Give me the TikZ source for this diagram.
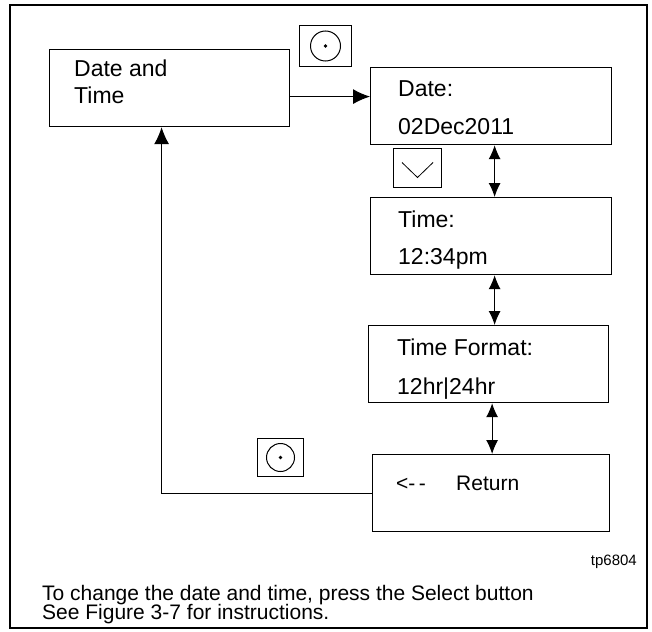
\documentclass[tikz,border=0pt]{standalone}
\usepackage{fontspec}
\setmainfont{Liberation Sans}
\usetikzlibrary{arrows.meta,positioning}
\newcommand{\boxWidth}{241pt}
\newcommand{\boxHeight}{77pt}
\newcommand{\textIndent}{28}
\newcommand{\arrowOffset}{3.5pt}

\begin{document}
\begin{tikzpicture}[x=1pt,y=-1pt,
    menubox/.style={draw,line width=1.2pt,minimum width=\boxWidth,minimum height=\boxHeight,inner sep=0pt,anchor=north west},
    btnbox/.style={draw,line width=1pt,inner sep=0pt,anchor=north west},
    boxtext/.style={inner sep=0pt,anchor=base west,font=\fontsize{23}{27}\selectfont},
    notetext/.style={inner sep=0pt,anchor=base west,font=\fontsize{21}{19}\selectfont},
    arr/.style={-{Latex[length=17pt,width=15pt]},line width=1pt},
    dblarr/.style={{Latex[length=14pt,width=12pt]}-{Latex[length=14pt,width=12pt]},line width=1pt}]
\useasboundingbox (0,0) rectangle (652,631);
\draw[line width=2pt] (10,5) rectangle (647,628);

% menu boxes
\node[menubox,minimum width=240pt] (dt) at (49,49) {};
\node[menubox] (date) at (370,67) {};
\node[menubox] (time) at (370,197) {};
\node[menubox,minimum width=240pt] (fmt) at (368,325) {};
\node[menubox,minimum width=237pt] (ret) at (372,454) {};

\node[boxtext] (dtA) at ([shift={(25,28)}]dt.north west) {Date and};
\node[boxtext] (dtB) at ([shift={(25,55)}]dt.north west) {Time};
\node[boxtext] (dateA) at ([shift={(\textIndent,30)}]date.north west) {Date:};
\node[boxtext] (dateB) at ([shift={(\textIndent,68)}]date.north west) {02Dec2011};
\node[boxtext] (timeA) at ([shift={(\textIndent,30)}]time.north west) {Time:};
\node[boxtext] (timeB) at ([shift={(\textIndent,67)}]time.north west) {12:34pm};
\node[boxtext] (fmtA) at ([shift={(29,30)}]fmt.north west) {Time Format:};
\node[boxtext] (fmtB) at ([shift={(29,69)}]fmt.north west) {12hr|24hr};
\node[boxtext,font=\fontsize{21}{25}\selectfont] (retA) at ([shift={(24,36)}]ret.north west) {<-\,-};
\node[boxtext,font=\fontsize{21}{25}\selectfont] (retB) at ([shift={(84,36)}]ret.north west) {Return};

% buttons
\node[btnbox,minimum width=52pt,minimum height=41pt] (selTop) at (299,25) {};
\draw[line width=1pt] (selTop.center) circle (15pt);
\fill (selTop.center) circle (1.9pt);
\node[btnbox,minimum width=48pt,minimum height=39pt] (down) at (393,148) {};
\draw[line width=0.8pt] ([shift={(-15.5,-5.5)}]down.center) -- ([shift={(0,9.5)}]down.center) -- ([shift={(15.5,-5.5)}]down.center);
\node[btnbox,minimum width=46pt,minimum height=38pt] (selLow) at (257,438) {};
\draw[line width=1pt] (selLow.center) circle (14pt);
\fill (selLow.center) circle (1.8pt);

% connectors
\draw[arr] ([yshift=-8.5pt]dt.east) -- ([yshift=-8.5pt]dt.east -| date.west);
\draw[dblarr] ([xshift=\arrowOffset]date.south) -- ([xshift=\arrowOffset]date.south |- time.north);
\draw[dblarr] ([xshift=\arrowOffset]time.south) -- ([xshift=\arrowOffset]time.south |- fmt.north);
\draw[dblarr] ([xshift=\arrowOffset]fmt.south) -- ([xshift=\arrowOffset]fmt.south |- ret.north);
\draw[arr] (ret.west) -| ([xshift=-8pt]dt.south);

\node[inner sep=0pt,anchor=base east,font=\fontsize{15}{18}\selectfont] (tag) at (637,565) {tp6804};
\node[notetext] (note1) at (42,600) {To change the date and time, press the Select button};
\node[notetext] (note2) at ([yshift=-19pt]note1.base west) {See Figure 3-7 for instructions.};
\end{tikzpicture}
\end{document}
